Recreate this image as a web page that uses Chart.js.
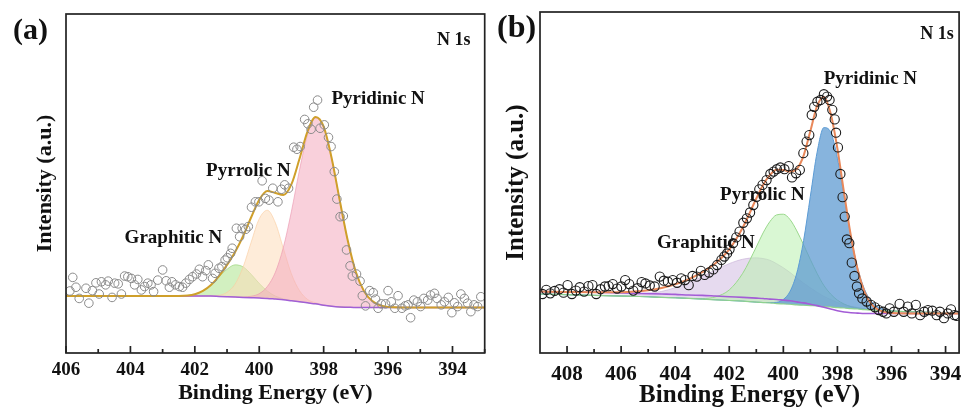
<!DOCTYPE html>
<html>
<head>
<meta charset="utf-8">
<script src="https://cdn.jsdelivr.net/npm/chart.js@4.4.1/dist/chart.umd.min.js"></script>
<style>
  body { margin: 0; background: #fff; }
  canvas { position: absolute; top: 0; }
</style>
</head>
<body>
<canvas id="chartA" width="490" height="412" style="left:0"></canvas>
<canvas id="chartB" width="480" height="412" style="left:490px"></canvas>
<script>
// ---- panel (a) ----
const gridA = [406, 405, 404, 403, 402.5, 402, 401.75, 401.5, 401.25, 401, 400.75, 400.5, 400.25, 400, 399.75, 399.5,
  399.25, 399, 398.75, 398.5, 398.25, 398, 397.75, 397.5, 397.25, 397, 396.75, 396.5, 396, 395, 394, 393];
const baselineA = [16.8, 16.8, 16.8, 16.8, 16.8, 16.8, 16.8, 16.8, 16.7, 16.6, 16.5, 16.4, 16.3, 16.2, 16.1, 15.9,
  15.7, 15.4, 15.1, 14.8, 14.5, 14.1, 13.8, 13.6, 13.5, 13.4, 13.4, 13.4, 13.4, 13.4, 13.4, 13.4];
// component heights above the background
const graphiticA = [0, 0, 0, 0, 0.04, 0.55, 1.5, 3.2, 5.7, 8.1, 9.5, 9.0, 6.9, 4.3, 2.2, 0.9,
  0.3, 0.1, 0, 0, 0, 0, 0, 0, 0, 0, 0, 0, 0, 0, 0, 0];
const pyrrolicA = [0, 0, 0, 0, 0, 0, 0, 0.06, 0.3, 1.3, 3.8, 9.0, 16.4, 23.4, 26.0, 22.5,
  15.1, 7.9, 3.3, 1.0, 0.3, 0.05, 0, 0, 0, 0, 0, 0, 0, 0, 0, 0];
const pyridinicA = [0, 0, 0, 0, 0, 0, 0, 0, 0, 0, 0, 0.12, 0.45, 1.3, 3.5, 7.9,
  15.5, 26.4, 38.9, 49.6, 54.8, 52.6, 43.6, 31.4, 19.6, 10.5, 4.9, 2.0, 0.2, 0, 0, 0];
const scanEnergyA = [405.88, 405.79, 405.69, 405.59, 405.38, 405.29, 405.18, 405.07, 404.97, 404.90,
  404.77, 404.69, 404.57, 404.49, 404.38, 404.28, 404.18, 404.08, 403.97, 403.87,
  403.77, 403.66, 403.56, 403.46, 403.36, 403.28, 403.15, 403.00, 402.89, 402.79,
  402.71, 402.60, 402.48, 402.38, 402.28, 402.17, 402.07, 401.95, 401.86, 401.76,
  401.66, 401.58, 401.45, 401.37, 401.25, 401.16, 401.06, 400.99, 400.89, 400.84,
  400.71, 400.61, 400.53, 400.42, 400.34, 400.24, 400.12, 400.01, 399.91, 399.81,
  399.70, 399.58, 399.42, 399.31, 399.21, 399.09, 398.93, 398.83, 398.73, 398.59,
  398.49, 398.39, 398.31, 398.19, 398.11, 397.98, 397.85, 397.77, 397.67, 397.59,
  397.49, 397.39, 397.29, 397.18, 397.11, 396.98, 396.87, 396.80, 396.70, 396.57,
  396.46, 396.39, 396.31, 396.21, 396.08, 396.00, 395.90, 395.79, 395.69, 395.57,
  395.47, 395.38, 395.30, 395.20, 395.09, 394.99, 394.89, 394.77, 394.68, 394.56,
  394.48, 394.35, 394.25, 394.13, 394.02, 393.94, 393.84, 393.74, 393.63, 393.53,
  393.43, 393.33, 393.22, 393.12];
const scanCountsA = [18.3, 22.3, 19.4, 16.1, 19.1, 14.7, 18.4, 20.7, 17.4, 21.0,
  20.1, 21.2, 16.4, 20.6, 20.4, 17.4, 22.7, 22.5, 22.0, 20.1,
  21.7, 18.6, 19.6, 20.6, 20.1, 18.1, 21.5, 24.5, 21.3, 19.4,
  21.0, 20.1, 19.6, 19.4, 20.6, 21.7, 22.5, 23.3, 24.7, 22.5,
  24.3, 26.0, 22.0, 23.5, 25.0, 25.5, 27.4, 28.1, 29.4, 30.9,
  36.8, 34.3, 36.8, 36.5, 37.3, 43.0, 44.6, 44.6, 50.8, 45.6,
  45.1, 48.6, 44.6, 48.3, 49.6, 48.6, 60.7, 60.1, 60.9, 68.9,
  67.6, 66.0, 72.5, 74.6, 66.3, 67.3, 63.6, 60.9, 53.5, 45.4,
  40.2, 40.4, 30.4, 25.7, 22.7, 23.3, 21.2, 16.9, 13.9, 18.4,
  17.8, 15.9, 13.2, 14.5, 14.5, 18.4, 15.1, 13.2, 16.9, 13.2,
  13.9, 14.2, 10.4, 15.6, 15.1, 13.7, 16.1, 15.6, 17.1, 17.6,
  16.1, 14.2, 15.1, 16.4, 11.9, 14.8, 13.7, 17.4, 16.1, 14.7,
  12.2, 14.2, 13.7, 16.6];
const ticksA = [406, 404, 402, 400, 398, 396, 394];
const minorA = [405, 403, 401, 399, 397, 395, 393];

// ---- panel (b) ----
const gridB = [409, 408, 407, 406, 405.5, 405, 404.5, 404, 403.5, 403, 402.5, 402, 401.5, 401,
  400.75, 400.5, 400.25, 400, 399.75, 399.5, 399.25, 399, 398.75, 398.5, 398.25, 398, 397.75, 397.5,
  397.25, 397, 396.75, 396.5, 396, 395, 394, 393.5];
const baselineB = [18.0, 17.9, 17.8, 17.6, 17.5, 17.4, 17.3, 17.2, 17.0, 16.9, 16.7, 16.5, 16.3, 16.1,
  16.0, 15.8, 15.7, 15.5, 15.3, 15.0, 14.7, 14.3, 13.9, 13.4, 12.9, 12.4, 12.0, 11.8,
  11.7, 11.6, 11.6, 11.6, 11.6, 11.6, 11.6, 11.6];
const linearB = [17.3, 17.1, 16.9, 16.7, 16.6, 16.5, 16.3, 16.2, 16.0, 15.8, 15.6, 15.4, 15.2, 14.9,
  14.8, 14.7, 14.5, 14.4, 14.3, 14.1, 14.0, 13.9, 13.8, 13.6, 13.5, 13.3, 13.2, 13.0,
  12.9, 12.7, 12.6, 12.5, 12.3, 12.0, 11.8, 11.7];
const graphiticB = [0, 0, 0.04, 0.24, 0.5, 0.97, 1.76, 2.95, 4.6, 6.6, 8.8, 10.8, 12.3, 13.0,
  12.9, 12.5, 11.7, 10.6, 9.3, 7.9, 6.5, 5.2, 4.0, 3.0, 2.2, 1.5, 1.0, 0.68,
  0.43, 0.27, 0.16, 0.09, 0.02, 0, 0, 0];
const pyrrolicB = [0, 0, 0, 0, 0, 0, 0, 0, 0.03, 0.19, 0.89, 3.1, 8.2, 16.2,
  20.4, 23.8, 26.0, 26.3, 24.8, 21.7, 17.7, 13.5, 9.5, 6.2, 3.8, 2.2, 1.15, 0.56,
  0.26, 0.11, 0.04, 0.01, 0, 0, 0, 0];
const pyridinicB = [0, 0, 0, 0, 0, 0, 0, 0, 0, 0, 0, 0, 0, 0,
  0, 0.08, 0.36, 1.3, 3.8, 9.4, 19.0, 32.1, 45.1, 52.5, 51.3, 43.8, 32.6, 21.2,
  12.0, 6.0, 2.6, 1.0, 0.1, 0, 0, 0];
const scanEnergyB = [408.91, 408.77, 408.62, 408.46, 408.28, 408.13, 407.98, 407.82, 407.67, 407.53,
  407.37, 407.21, 407.06, 406.92, 406.76, 406.60, 406.46, 406.31, 406.15, 405.99,
  405.85, 405.70, 405.55, 405.39, 405.24, 405.10, 404.94, 404.76, 404.57, 404.42,
  404.27, 404.09, 403.93, 403.78, 403.64, 403.50, 403.36, 403.20, 403.05, 402.91,
  402.75, 402.59, 402.45, 402.29, 402.18, 402.08, 401.99, 401.86, 401.74, 401.62,
  401.48, 401.35, 401.23, 401.11, 400.99, 400.89, 400.77, 400.62, 400.48, 400.36,
  400.24, 400.11, 399.96, 399.80, 399.68, 399.53, 399.39, 399.26, 399.14, 399.04,
  398.95, 398.86, 398.74, 398.62, 398.50, 398.38, 398.29, 398.19, 398.10, 398.05,
  397.98, 397.89, 397.81, 397.73, 397.65, 397.56, 397.47, 397.37, 397.28, 397.20,
  397.08, 396.92, 396.76, 396.61, 396.47, 396.31, 396.19, 396.07, 395.91, 395.70,
  395.55, 395.40, 395.25, 395.10, 394.94, 394.79, 394.65, 394.49, 394.33, 394.21,
  394.06, 393.92, 393.80, 393.67, 393.58];
const scanCountsB = [17.3, 18.5, 17.5, 18.2, 18.7, 17.7, 19.9, 17.3, 18.3, 19.3,
  18.0, 19.6, 19.9, 17.3, 18.7, 19.5, 19.6, 20.2, 18.9, 19.5,
  21.4, 20.2, 18.3, 19.0, 20.8, 20.4, 19.8, 19.5, 22.4, 21.2,
  20.9, 21.4, 20.6, 21.9, 21.4, 19.9, 22.6, 22.4, 24.1, 22.9,
  23.6, 24.5, 25.8, 27.3, 28.3, 29.2, 30.4, 32.2, 33.9, 35.6,
  38.2, 39.5, 41.2, 43.4, 45.8, 48.0, 49.3, 50.7, 52.5, 53.2,
  53.9, 54.4, 53.9, 54.8, 51.5, 52.7, 53.7, 58.6, 62.0, 63.9,
  69.8, 72.2, 73.7, 74.2, 75.9, 75.2, 74.2, 71.3, 68.5, 64.6,
  60.3, 52.5, 45.7, 40.0, 33.3, 32.2, 26.5, 22.6, 19.5, 17.5,
  16.0, 15.1, 14.1, 13.4, 12.6, 12.1, 11.6, 13.1, 12.1, 14.4,
  12.1, 13.6, 11.6, 14.1, 11.1, 12.1, 12.6, 12.4, 11.1, 12.1,
  10.2, 11.6, 12.8, 11.1, 10.9];
const ticksB = [408, 406, 404, 402, 400, 398, 396, 394];
const minorB = [407, 405, 403, 401, 399, 397, 395];

const SERIF = "'Liberation Serif', 'Times New Roman', serif";

const pts = (xs, ys) => xs.map((x, i) => ({ x, y: ys[i] }));
const add = (...arrs) => arrs[0].map((_, i) => arrs.reduce((s, a) => s + a[i], 0));

const framePlugin = {
  id: 'frame',
  afterDraw(chart, args, o) {
    const { ctx, chartArea: a, scales: { x, y } } = chart;
    ctx.save();
    ctx.strokeStyle = '#222';
    ctx.lineWidth = 1.7;
    ctx.strokeRect(a.left, a.top, a.right - a.left, a.bottom - a.top);
    ctx.beginPath();
    o.major.forEach(v => { const p = x.getPixelForValue(v); ctx.moveTo(p, a.bottom); ctx.lineTo(p, a.bottom - 7); });
    o.minor.forEach(v => { const p = x.getPixelForValue(v); ctx.moveTo(p, a.bottom); ctx.lineTo(p, a.bottom - 4); });
    ctx.stroke();
    ctx.fillStyle = '#111';
    ctx.textBaseline = 'middle';
    o.notes.forEach(n => {
      ctx.font = 'bold ' + n.size + 'px ' + SERIF;
      ctx.textAlign = n.align || 'left';
      ctx.fillText(n.text, x.getPixelForValue(n.e), y.getPixelForValue(n.i));
    });
    ctx.font = 'bold ' + o.letterSize + 'px ' + SERIF;
    ctx.textAlign = 'left';
    ctx.fillText(o.letter, o.letterX, o.letterY);
    ctx.restore();
  }
};

function makeScales(xmin, xmax, ticks, sz) {
  return {
    x: {
      type: 'linear', reverse: true, min: xmin, max: xmax,
      grid: { display: false, drawTicks: false }, border: { display: false },
      ticks: { autoSkip: false, maxRotation: 0, color: '#111', padding: sz.tickPad,
        font: { family: SERIF, size: sz.tick, weight: 'bold' } },
      afterBuildTicks: s => { s.ticks = ticks.map(v => ({ value: v })); },
      afterFit: s => { s.height = 59; },
      title: { display: true, text: 'Binding Energy (eV)', color: '#111',
        font: { family: SERIF, size: sz.xTitle, weight: 'bold' }, padding: { top: 0, bottom: sz.xTitlePad } }
    },
    y: {
      min: 0, max: 100,
      grid: { display: false, drawTicks: false }, border: { display: false },
      ticks: { display: false },
      afterFit: s => { s.width = sz.yWidth; },
      title: { display: true, text: 'Intensity (a.u.)', color: '#111',
        font: { family: SERIF, size: sz.yTitle, weight: 'bold' }, padding: { top: sz.yTitlePad, bottom: 0 } }
    }
  };
}

const curve = (data, color, width, extra) => Object.assign({
  type: 'scatter', data, showLine: true, pointRadius: 0, borderColor: color, borderWidth: width,
  cubicInterpolationMode: 'monotone', fill: false
}, extra || {});

// chart (a)
new Chart(document.getElementById('chartA'), {
  type: 'scatter',
  data: {
    datasets: [
      { data: pts(scanEnergyA, scanCountsA), pointRadius: 4.3, pointBorderWidth: 1,
        pointBorderColor: '#8a8a8a', pointBackgroundColor: 'rgba(0,0,0,0)', order: 0 },
      curve(pts(gridA, add(baselineA, graphiticA, pyrrolicA, pyridinicA)), '#cf9f2a', 2, { order: 1 }),
      curve(pts(gridA, baselineA), '#a15fd6', 1.5, { order: 2 }),
      curve(pts(gridA, add(baselineA, graphiticA)), 'rgba(160,215,130,0.9)', 0.8,
        { fill: 2, backgroundColor: 'rgba(180,230,150,0.6)', order: 5 }),
      curve(pts(gridA, add(baselineA, pyrrolicA)), 'rgba(250,205,160,0.8)', 0.8,
        { fill: 2, backgroundColor: 'rgba(253,220,185,0.55)', order: 4 }),
      curve(pts(gridA, add(baselineA, pyridinicA)), 'rgba(235,150,175,0.8)', 0.8,
        { fill: 2, backgroundColor: 'rgba(244,170,190,0.55)', order: 3 })
    ]
  },
  options: {
    responsive: false, animation: false,
    layout: { padding: { top: 14, right: 3, left: 0, bottom: 0 } },
    scales: makeScales(393, 406, ticksA,
      { tick: 19, tickPad: 5.6, xTitle: 22, xTitlePad: 5.8, yTitle: 22, yTitlePad: 31.8, yWidth: 66 }),
    plugins: {
      legend: { display: false }, tooltip: { enabled: false },
      frame: {
        major: ticksA, minor: minorA, letter: '(a)', letterSize: 30, letterX: 13, letterY: 31,
        notes: [
          { text: 'Pyridinic N', e: 397.76, i: 74.9, size: 19 },
          { text: 'Pyrrolic N', e: 401.65, i: 53.7, size: 19 },
          { text: 'Graphitic N', e: 404.18, i: 33.9, size: 19 },
          { text: 'N 1s', e: 393.44, i: 92.3, size: 18, align: 'right' }
        ]
      }
    }
  },
  plugins: [framePlugin]
});

// chart (b)
new Chart(document.getElementById('chartB'), {
  type: 'scatter',
  data: {
    datasets: [
      { data: pts(scanEnergyB, scanCountsB), pointRadius: 4.6, pointBorderWidth: 1.1,
        pointBorderColor: '#1a1a1a', pointBackgroundColor: 'rgba(0,0,0,0)', order: 0 },
      curve(pts(gridB, add(baselineB, graphiticB, pyrrolicB, pyridinicB)), '#e9885a', 2, { order: 1 }),
      curve(pts(gridB, baselineB), '#a35cd6', 1.6, { order: 2 }),
      curve(pts(gridB, linearB), '#8fd18f', 1.2, { order: 3 }),
      curve(pts(gridB, add(linearB, graphiticB)), 'rgba(200,178,215,0.85)', 0.8,
        { fill: 3, backgroundColor: 'rgba(214,194,228,0.6)', order: 6 }),
      curve(pts(gridB, add(linearB, pyrrolicB)), '#9ad88c', 1,
        { fill: 3, backgroundColor: 'rgba(185,240,175,0.55)', order: 5 }),
      curve(pts(gridB, add(linearB, pyridinicB)), '#5b9bd5', 1,
        { fill: 3, backgroundColor: 'rgba(95,155,210,0.75)', order: 4 })
    ]
  },
  options: {
    responsive: false, animation: false,
    layout: { padding: { top: 12, right: 5, left: 0, bottom: 0 } },
    scales: makeScales(393.5, 409, ticksB,
      { tick: 21, tickPad: 8.5, xTitle: 25, xTitlePad: 1, yTitle: 25, yTitlePad: 12, yWidth: 50 }),
    plugins: {
      legend: { display: false }, tooltip: { enabled: false },
      frame: {
        major: ticksB, minor: minorB, letter: '(b)', letterSize: 32, letterX: 7, letterY: 29,
        notes: [
          { text: 'Pyridinic N', e: 398.51, i: 80.4, size: 19 },
          { text: 'Pyrrolic N', e: 402.34, i: 46.3, size: 19 },
          { text: 'Graphitic N', e: 404.67, i: 32.3, size: 19 },
          { text: 'N 1s', e: 393.7, i: 93.5, size: 18, align: 'right' }
        ]
      }
    }
  },
  plugins: [framePlugin]
});
</script>
</body>
</html>
